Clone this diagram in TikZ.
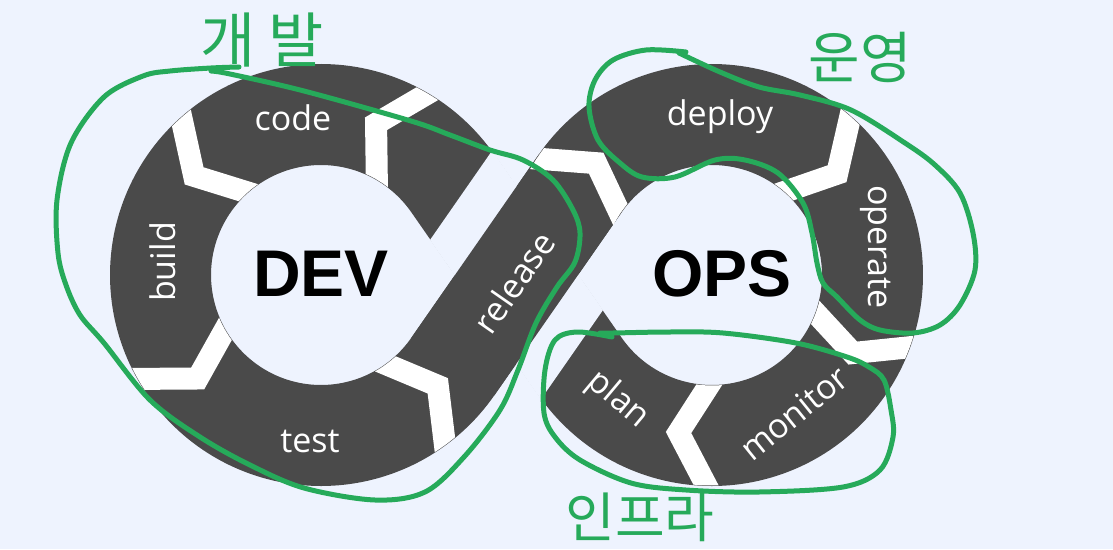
\documentclass[tikz,border=0pt]{standalone}
\usepackage{fontspec}
\newfontfamily\labfont{Open Sans}
\newfontfamily\bigfont{Liberation Sans}
\newfontfamily\krfont{Noto Sans CJK KR}
\usetikzlibrary{calc}
\definecolor{bgc}{RGB}{238,243,254}
\definecolor{ringc}{RGB}{74,74,74}
\definecolor{penc}{RGB}{38,170,90}
\newcommand\mychev[3]{%
  \coordinate (cvV) at ($(#1)+({#2+#3}:161)$);
  \coordinate (cvO) at ($(#1)+(#2:211)$);
  \coordinate (cvI) at ($(#1)+(#2:110)$);
  \draw[chev] ($(cvV)!1.6!(cvO)$) -- (cvV) -- ($(cvV)!1.6!(cvI)$);
}
\begin{document}
\begin{tikzpicture}[x=1pt,y=-1pt,
  band/.style={draw=ringc,line width=101pt,line cap=butt},
  chev/.style={draw=white,line width=22pt,line join=miter,line cap=butt},
  lab/.style={text=white,font=\labfont\fontsize{34}{40}\selectfont,inner sep=0pt},
  big/.style={text=black,font=\bigfont\bfseries\fontsize{66}{70}\selectfont,inner sep=0pt},
  penline/.style={draw=penc,line width=5pt,line cap=round,line join=round},
  kr/.style={text=penc,font=\krfont\fontsize{60}{64}\selectfont,inner sep=0pt}]

\fill[bgc] (0,0) rectangle (1113,549);
\useasboundingbox (0,0) rectangle (1113,549);

\coordinate (Cd) at (321,275);
\coordinate (Co) at (712,275);
\coordinate (R1) at (452.8,366.6);
\coordinate (R2) at (580.2,183.4);

% the infinity loop
\draw[band] plot[domain=214.8:505.2,samples=180,variable=\t] ({712+160.5*cos(\t)},{275+160.5*sin(\t)})
  -- plot[domain=325.2:34.8,samples=180,variable=\t] ({321+160.5*cos(\t)},{275+160.5*sin(\t)}) -- cycle;

% gap around the crossing
\begin{scope}
  \clip (644.0,369.1) -- (560.2,427.3) -- (389.0,180.9) -- (472.8,122.7) -- cycle;
  \draw[draw=bgc,line width=182pt] (R1) -- (R2);
\end{scope}
\draw[band] (R1) -- (R2);

% chevrons DEV
\begin{scope}
  \clip plot[domain=0:360,samples=180,variable=\t] ({321+210.5*cos(\t)},{275+210.5*sin(\t)}) -- cycle
        plot[domain=360:0,samples=180,variable=\t] ({321+110.5*cos(\t)},{275+110.5*sin(\t)}) -- cycle;
  \mychev{Cd}{228.5}{-10.5}
  \mychev{Cd}{300.5}{-10.5}
  \mychev{Cd}{150.5}{-10.5}
  \mychev{Cd}{54}{-10.5}
\end{scope}
% chevrons OPS
\begin{scope}
  \clip plot[domain=0:360,samples=180,variable=\t] ({712+210.5*cos(\t)},{275+210.5*sin(\t)}) -- cycle
        plot[domain=360:0,samples=180,variable=\t] ({712+110.5*cos(\t)},{275+110.5*sin(\t)}) -- cycle;
  \mychev{Co}{213.5}{10.5}
  \mychev{Co}{311}{10}
  \mychev{Co}{20}{9}
  \mychev{Co}{91.5}{10.5}
\end{scope}

% labels
\node[lab,anchor=base] (code) at (293,130) {code};
\node[lab,anchor=base,rotate=90] (build) at (175,262) {build};
\node[lab,anchor=base] (test) at (310,452) {test};
\node[lab,rotate=55.2] (release) at (514,282) {release};
\node[lab,anchor=base] (deploy) at (720,125) {deploy};
\node[lab,anchor=base,rotate=-90] (operate) at (868,247) {operate};
\node[lab,rotate=39] (monitor) at (794,413) {monitor};
\node[lab,rotate=-40] (plan) at (618,400) {plan};

\node[big,anchor=base] (dev) at (321,296) {DEV};
\node[big,anchor=base] (ops) at (722,296) {OPS};

% handwritten marks
\draw[penline] plot[smooth,tension=0.55] coordinates {(239,67) (211,68) (170,71) (143,76) (104,97) (71,143) (57,200) (58,253) (66,285) (80,315) (104,343) (150,400) (200,437) (250,465) (304,488) (375,500) (425,492) (464,457) (500,410) (518,370) (536,323) (557,287) (575,262) (580,233) (573,210) (553,180) (523,160) (490,150) (450,135) (411,121) (304,91) (230,74) (211,71)};
\draw[penline] plot[smooth,tension=0.55] coordinates {(686,52) (646,50) (613,60) (595,80) (589,107) (598,140) (620,163) (642,177) (675,177) (715,160) (745,160) (778,173) (803,203) (812,233) (817,263) (823,283) (837,297) (860,320) (880,330) (913,333) (940,325) (960,305) (975,270) (973,233) (960,193) (935,165) (905,143) (851,110) (800,95) (759,87) (720,72) (679,53)};
\draw[penline] plot[smooth,tension=0.55] coordinates {(612,337) (577,332) (555,340) (545,370) (544,413) (555,437) (580,460) (631,483) (686,490) (759,492) (843,487) (880,470) (893,437) (891,410) (884,380) (869,367) (847,357) (796,343) (723,333) (668,332) (613,333) (600,333)};

\node[kr] (kdev) at (262,40) {개 발};
\node[kr,font=\krfont\fontsize{56}{60}\selectfont] (kops) at (860,57) {운영};
\node[kr,font=\krfont\fontsize{54}{58}\selectfont] (kinfra) at (640,517) {인프라};
\end{tikzpicture}
\end{document}
